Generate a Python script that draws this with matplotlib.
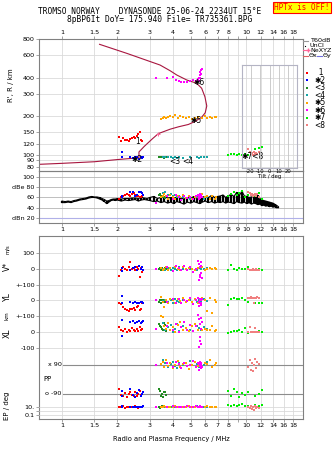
import matplotlib
matplotlib.use('Agg')
import matplotlib.pyplot as plt
from matplotlib.ticker import FixedLocator, FixedFormatter, NullLocator

W, H = 335, 451

FREQ_TICKS = [1, 1.5, 2, 3, 4, 5, 6, 7, 8, 9, 10, 12, 14, 16, 18]
FREQ_LABELS = ['1', '1.5', '2', '3', '4', '5', '6', '7', '8', '9', '10', '12', '14', '16', '18']
FREQ_LABELS_NO9 = ['1', '1.5', '2', '3', '4', '5', '6', '7', '8', '', '10', '12', '14', '16', '18']
RANGE_TICKS = [80, 90, 100, 120, 150, 200, 300, 400, 600, 800]
DB_TICKS = [20, 40, 60, 80, 100]
DB_LABELS = ['dBn 20', '40', '60', 'dBe 80', '100']
TILT_TICKS = [-20, -10, 0, 10, 20]

# model profile (virtual range vs frequency)
PROF_F = [0.75, 1.0, 1.5, 2.0, 2.4, 2.62, 2.62, 2.8, 3.1, 3.34, 3.87, 4.3, 4.86, 5.3, 5.74, 6.0,
          6.12, 5.98, 5.74, 5.39, 4.76, 4.2, 3.87, 3.41, 2.25, 1.6]
PROF_R = [84, 85.5, 88, 91.5, 93.5, 94.5, 105, 116, 133, 146, 158, 165, 172, 182, 196, 212,
          240, 283, 330, 361, 383, 419, 452, 501, 618, 727]

# noise floor trace
NOISE_F = [1.00, 1.04, 1.08, 1.12, 1.16, 1.20, 1.25, 1.30, 1.35, 1.40, 1.45, 1.50, 1.55, 1.60,
           1.65, 1.70, 1.75, 1.80, 1.85, 1.90, 1.95, 2.00, 2.10, 2.20, 2.30, 2.40, 2.50, 2.60,
           2.70, 2.80, 2.90, 3.00, 3.15, 3.30, 3.45, 3.60, 3.75, 3.90, 4.05, 4.20, 4.40, 4.60,
           4.80, 5.00, 5.20, 5.40, 5.60, 5.80, 6.00, 6.25, 6.50, 6.75, 7.00, 7.25, 7.50, 7.75,
           8.00, 8.30, 8.60, 8.90, 9.20, 9.50, 9.80, 10.1, 10.4, 10.7, 11.0, 11.3, 11.6, 11.9,
           12.2, 12.5, 12.8, 13.1, 13.4, 13.7, 14.0, 14.3, 14.6, 15.0]
NOISE_LO = [50, 50, 51, 50, 52, 53, 55, 56, 57, 59, 60, 60, 59, 57,
            55, 52, 48, 51, 54, 55, 54, 55, 53, 55, 54, 55, 56, 53,
            55, 56, 55, 54, 52, 53, 50, 52, 49, 51, 48, 52, 50, 47,
            51, 49, 52, 50, 48, 51, 53, 50, 52, 49, 51, 50, 52, 49,
            51, 50, 48, 52, 50, 49, 51, 48, 50, 47, 49, 48, 46, 47,
            44, 45, 43, 44, 42, 43, 41, 42, 40, 40]
NOISE_HI = [53, 52, 53, 52, 54, 55, 57, 58, 59, 61, 62, 61, 61, 60,
            58, 56, 53, 54, 56, 57, 57, 58, 57, 58, 58, 59, 59, 58,
            60, 59, 58, 60, 62, 58, 60, 62, 59, 60, 58, 61, 59, 57,
            60, 58, 62, 58, 60, 61, 62, 60, 64, 60, 62, 63, 65, 60,
            63, 66, 62, 70, 64, 72, 63, 62, 60, 61, 62, 60, 64, 58,
            55, 54, 53, 52, 51, 50, 49, 47, 45, 42]

# echo traces: frequency, virtual range, amplitude, V*, YL, XL, PP, EP
F1 = [2.05, 2.10, 2.15, 2.20, 2.25, 2.30, 2.35, 2.40, 2.45, 2.50, 2.55, 2.60, 2.65, 2.70, 2.72]
R1 = [138, 128, 136, 131, 130, 127, 133, 135, 138, 136, 141, 146, 151, 129, 127]
DB1 = [58, 61, 62, 64, 66, 65, 63, 66, 68, 64, 62, 63, 60, 61, 62]
V1 = [-45, -10, 12, 0, -5, 8, 45, -2, 5, -8, 10, 0, -55, 3, -20]
YL1 = [-15, -25, -45, -55, -62, -66, -58, -55, -50, -60, -45, -35, -62, -55, -20]
XL1 = [30, 10, 5, 20, 2, 15, 8, 25, 12, 3, 18, 6, 34, 10, 20]
PP1 = [-60, -95, -100, -85, -110, -90, -75, -95, -100, -80, -105, -90, -70, -95, -88]
EP1 = [10, 8, 12, 6, 9, 11, 7, 10, 8, 12, 9, 6, 10, 8, 11]

F2 = [2.12, 2.12, 2.35, 2.42, 2.50, 2.56, 2.62, 2.68, 2.72, 2.75]
R2 = [105, 96, 95, 94, 96, 95, 93, 95, 94, 96]
DB2 = [60, 62, 71, 70, 63, 64, 70, 71, 69, 65]
V2 = [5, -15, -8, 7, 10, -5, 15, -3, 8, -10]
YL2 = [28, -15, -12, -18, -10, -20, -14, -8, -12, -18]
XL2 = [75, -25, 60, 70, 55, 65, 72, 58, 62, 68]
PP2 = [-70, -100, -60, -95, -110, -85, -65, -100, -90, -80]
EP2 = [9, 12, 8, 10, 7, 11, 9, 8, 10, 12]

F3 = [3.38, 3.42, 3.46, 3.50, 3.54, 3.58, 3.62, 3.66]
R3 = [95, 95, 96, 95, 95, 94, 95, 95]
DB3 = [64, 66, 62, 60, 63, 61, 59, 62]
V3 = [0, 5, -5, 2, 0, -3, 4, 0]
YL3 = [-10, 5, -15, 0, -8, 3, -12, -5]
XL3 = [50, 40, 30, 20, 10, 55, 45, 5]
PP3 = [-60, -70, -100, -90, -110, -80, -75, -95]
EP3 = [10, 6, 9, 12, 8, 10, 7, 11]

F4 = [3.55, 3.65, 3.75, 3.90, 4.00, 4.10, 4.20, 4.30, 4.55, 4.95, 5.40, 5.55, 5.70, 5.90, 6.10]
R4 = [95, 95, 96, 95, 94, 95, 94, 95, 94, 96, 95, 94, 95, 96, 95]
DB4 = [68, 70, 64, 66, 62, 65, 60, 63, 61, 58, 62, 64, 60, 58, 61]
V4 = [0, -8, 5, -10, 3, 0, -5, 8, -3, 0, -6, 4, 0, -4, 2]
YL4 = [-5, 5, -10, 0, -15, 8, -3, -8, 5, 0, -10, 3, -5, 8, -2]
XL4 = [55, 10, 30, 45, 0, 20, 50, 5, 35, 15, 40, 25, 10, 30, 20]
PP4 = [120, 100, 80, 95, 110, 85, 70, 105, 90, 115, 95, 80, 100, 90, 110]
EP4 = [9, 11, 10, 8, 12, 10, 9, 11, 10, 8, 12, 9, 10, 11, 9]

F5 = [3.45, 3.52, 3.60, 3.68, 3.78, 3.88, 4.00, 4.12, 4.25, 4.40, 4.55, 4.70, 4.90, 5.10, 5.30,
      5.50, 5.75, 5.95, 6.15, 6.35, 6.55, 6.75, 6.90]
R5 = [190, 194, 198, 193, 196, 200, 195, 203, 192, 199, 195, 193, 198, 191, 194,
      196, 192, 199, 194, 197, 193, 198, 195]
DB5 = [60, 63, 66, 62, 58, 64, 61, 57, 63, 60, 65, 59, 62, 58, 61, 64, 66, 60, 63, 58, 62, 57, 60]
V5 = [5, -8, 0, 10, -5, 3, -12, 8, 0, -6, 12, -3, 5, 0, -8, 4, 10, -5, 0, 6, -4, 2, 0]
YL5 = [20, -10, -40, 5, -15, 10, 0, -20, 8, -5, 15, -12, 3, -8, 10, -18, 12, 0, -65, 15, -80, 5, -10]
XL5 = [100, 95, 40, 20, 55, 10, 30, 0, 45, 60, 15, 25, 5, 35, 50, 13, 10, 20, 12, 15, 40, 5, 13]
PP5 = [95, 110, 75, 120, 85, 100, 70, 90, 115, 80, 95, 105, 65, 90, 110, 85, 75, 100, 95, 120, 80, 90, 105]
EP5 = [10, 8, 12, 9, 11, 7, 10, 13, 9, 8, 11, 10, 12, 9, 7, 10, 11, 8, 12, 9, 10, 8, 11]

F6 = [3.25, 3.70, 4.00, 4.15, 4.30, 4.45, 4.60, 4.75, 4.95, 5.15, 5.35, 5.50, 5.55, 5.58, 5.60,
      5.62, 5.65, 5.68, 5.70, 5.72, 5.75]
R6 = [400, 398, 406, 385, 374, 370, 367, 372, 374, 380, 374, 388, 378, 400, 415,
      395, 445, 425, 430, 460, 470]
DB6 = [50, 62, 58, 64, 60, 56, 62, 59, 61, 57, 63, 65, 60, 58, 66, 62, 59, 64, 61, 63, 60]
V6 = [0, 10, -15, 20, 5, -10, 15, -5, 8, -20, 0, 50, -70, 30, -40, 10, -55, 20, -25, 40, -60]
YL6 = [5, -10, 8, -20, 10, -15, 0, -5, 12, -25, 5, 13, -35, -10, 0, -20, 8, -30, 5, -15, 10]
XL6 = [20, 40, 10, 50, 0, 30, 60, 15, 45, 5, 35, 108, -93, 80, -60, 50, -30, 90, -75, 20, 65]
PP6 = [90, 100, 80, 110, 95, 70, 105, 85, 90, 115, 75, 100, 60, 95, 110, 85, 100, 70, 90, 105, 80]
EP6 = [10, 9, 12, 8, 10, 11, 9, 13, 8, 10, 12, 9, 11, 10, 8, 12, 9, 10, 11, 8, 10]

F7 = [8.0, 8.3, 8.6, 8.9, 9.2, 9.5, 9.9, 10.3, 11.2, 11.7, 12.2]
R7 = [99, 101, 102, 100, 101, 100, 101, 99, 111, 112, 114]
DB7 = [62, 66, 70, 64, 68, 72, 60, 65, 63, 68, 58]
V7 = [-5, 25, 0, -8, 5, -3, 0, 8, -5, 0, -8]
YL7 = [-32, 10, 12, 8, 10, 12, 5, -10, -15, -20, -18]
XL7 = [-5, 0, 8, 5, 10, 0, 25, -5, 28, 5, 0]
PP7 = [-70, -100, -60, -80, -110, -85, -95, -75, -100, -90, -65]
EP7 = [20, 12, 30, 15, 25, 40, 18, 12, 20, 15, 25]

F8 = [10.3, 10.45, 10.6, 10.75, 10.9, 11.05, 11.2, 11.35, 11.5, 11.7]
R8 = [110, 104, 101, 103, 100, 104, 102, 103, 101, 104]
DB8 = [70, 68, 65, 66, 62, 64, 66, 63, 67, 61]
V8 = [-3, -5, -8, -5, -3, -6, -5, -4, -6, -5]
YL8 = [17, 17, 18, 17, 16, -20, 17, 17, 18, 17]
XL8 = [0, 30, 0, 2, -2, 0, 28, 0, 2, 0]
PP8 = [80, 120, 60, 100, 50, 90, 130, 70, 110, 95]
EP8 = [10, 4, 15, 3, 8, 2, 12, 5, 9, 6]

TRACES = [
    ('1', '#ff0000', F1, R1, DB1, V1, YL1, XL1, PP1, EP1),
    ('\u27312', '#0000ff', F2, R2, DB2, V2, YL2, XL2, PP2, EP2),
    ('<3', '#228b22', F3, R3, DB3, V3, YL3, XL3, PP3, EP3),
    ('<4', '#17a5a5', F4, R4, DB4, V4, YL4, XL4, PP4, EP4),
    ('\u27315', '#ffa500', F5, R5, DB5, V5, YL5, XL5, PP5, EP5),
    ('\u27316', '#ff00ff', F6, R6, DB6, V6, YL6, XL6, PP6, EP6),
    ('\u27317', '#00ee00', F7, R7, DB7, V7, YL7, XL7, PP7, EP7),
    ('<8', '#f08080', F8, R8, DB8, V8, YL8, XL8, PP8, EP8),
]

# where each trace number is written on the ionogram
TRACE_TAG_F = [2.59, 2.56, 4.11, 4.84, 5.35, 5.56, 10.8]
TRACE_TAG_R = [126, 92, 89, 89, 184, 365, 96]
TRACE_TAG_TXT = ['1', '\u27312', '<3', '<4', '\u27315', '\u27316', '\u27317<8']

GRID = '#dadada'
FRAME = '#808080'
FS = 4.6

V_OFF, YL_OFF, XL_OFF = 400, 200, 0


def pos(x0, y0, x1, y1):
    return [x0 / W, 1 - y1 / H, (x1 - x0) / W, (y1 - y0) / H]


def freq_axis(ax, labels=None, top=False):
    ax.set_xscale('log')
    ax.set_xlim(0.75, 20.4)
    ax.xaxis.set_major_locator(FixedLocator(FREQ_TICKS))
    ax.xaxis.set_minor_locator(NullLocator())
    ax.xaxis.set_major_formatter(FixedFormatter(labels if labels else [''] * len(FREQ_TICKS)))
    if top:
        ax.xaxis.tick_top()
    ax.grid(True, axis='x', color=GRID, lw=0.6)
    for s in ax.spines.values():
        s.set_color(FRAME)
        s.set_linewidth(0.8)
    ax.tick_params(labelsize=FS, length=2, width=0.5, color=FRAME, pad=1)
    ax.set_axisbelow(True)


def dots(ax, x, y, c):
    ax.plot(x, y, 's', ms=1.8, mew=0, color=c, clip_on=False)


fig = plt.figure(figsize=(W / 100, H / 100), dpi=100)
plt.rcParams['font.family'] = ['DejaVu Sans']

# ---- virtual range panel
ax_r = fig.add_axes(pos(39, 39, 303, 171))
freq_axis(ax_r, FREQ_LABELS_NO9, top=True)
ax_r.set_yscale('log')
ax_r.set_ylim(74.5, 800)
ax_r.yaxis.set_major_locator(FixedLocator(RANGE_TICKS))
ax_r.yaxis.set_minor_locator(NullLocator())
ax_r.yaxis.set_major_formatter(FixedFormatter([str(t) for t in RANGE_TICKS]))
ax_r.grid(True, axis='y', color=GRID, lw=0.6)
ax_r.plot(PROF_F, PROF_R, color='#a8163f', lw=0.8)
ax_r.plot([3.34], [146], '+', color='#ff6699', ms=3, mew=0.7)
for tr in TRACES:
    dots(ax_r, tr[2], tr[3], tr[1])
for f, r, t in zip(TRACE_TAG_F, TRACE_TAG_R, TRACE_TAG_TXT):
    ax_r.text(f, r, t, fontsize=5.5, ha='center', va='center', color='black')
fig.text(11 / W, 1 - 85 / H, "R', R / km", rotation=90, fontsize=5, ha='center', va='center')

# ---- amplitude panel
ax_db = fig.add_axes(pos(39, 171, 303, 223))
ax_db.patch.set_alpha(0)
freq_axis(ax_db, FREQ_LABELS)
ax_db.set_ylim(10.2, 111.7)
ax_db.set_yticks(DB_TICKS)
ax_db.set_yticklabels(DB_LABELS)
ax_db.grid(True, axis='y', color='#b4b4b4', lw=0.6)
ax_db.axhline(20, color='#b0b0e8', lw=0.8)
ax_db.vlines(NOISE_F, NOISE_LO, NOISE_HI, color='black', lw=1.6)
ax_db.plot(NOISE_F, NOISE_LO, color='black', lw=0.8)
ax_db.plot(NOISE_F, NOISE_HI, color='black', lw=0.8)
for tr in TRACES:
    dots(ax_db, tr[2], tr[4], tr[1])

# tilt inset (empty), drawn over the amplitude panel edge
ax_t = fig.add_axes(pos(242, 65, 297, 168))
ax_t.set_zorder(5)
ax_t.patch.set_alpha(0)
ax_t.set_xlim(-29, 29)
ax_t.set_ylim(0, 1)
ax_t.set_yticks([])
ax_t.set_xticks(TILT_TICKS)
ax_t.set_xticklabels([str(t) for t in TILT_TICKS])
ax_t.grid(True, axis='x', color='#c4c4c4', lw=0.6)
ax_t.tick_params(labelsize=3.8, length=0, pad=1)
ax_t.set_xlabel('Tilt / deg', fontsize=3.8, labelpad=0)
for s in ax_t.spines.values():
    s.set_color('#b4b4c4')
    s.set_linewidth(0.8)

# ---- drift velocity / position panel, stacked on one axis
ax_low = fig.add_axes(pos(39, 236, 303, 419))
freq_axis(ax_low, FREQ_LABELS_NO9)
ax_low.set_ylim(-551, 607)
low_ticks = [V_OFF + 100, V_OFF, V_OFF - 100, YL_OFF, YL_OFF - 100, XL_OFF, XL_OFF - 100]
ax_low.set_yticks(low_ticks)
ax_low.set_yticklabels(['100', '0', '+-100', '0', '+-100', '0', '-100'])
ax_low.grid(True, axis='y', color=GRID, lw=0.6)
for tr in TRACES:
    f = tr[2]
    dots(ax_low, f, [v + V_OFF for v in tr[5]], tr[1])
    dots(ax_low, f, [v + YL_OFF for v in tr[6]], tr[1])
    dots(ax_low, f, [v + XL_OFF for v in tr[7]], tr[1])

# polarization
ax_pp = fig.add_axes(pos(39, 352, 303, 402), sharex=ax_low)
ax_pp.patch.set_alpha(0)
ax_pp.set_ylim(-139.7, 170.7)
ax_pp.axis('off')
ax_pp.axhline(90, xmin=(63 - 39) / 264, color='#8c8c8c', lw=0.8)
ax_pp.axhline(-90, xmin=(63 - 39) / 264, color='#8c8c8c', lw=0.8)
ax_pp.text(0.085, 90, 'x 90', transform=ax_pp.get_yaxis_transform(), fontsize=FS, ha='right', va='center')
ax_pp.text(0.085, -90, 'o -90', transform=ax_pp.get_yaxis_transform(), fontsize=FS, ha='right', va='center')
ax_pp.text(0.015, 0, 'PP', transform=ax_pp.get_yaxis_transform(), fontsize=FS + 0.4, ha='left', va='center')
for tr in TRACES:
    dots(ax_pp, tr[2], tr[8], tr[1])

# echo arrival angle
ax_ep = fig.add_axes(pos(39, 400, 303, 419), sharex=ax_low)
ax_ep.patch.set_alpha(0)
ax_ep.set_yscale('log')
ax_ep.set_ylim(0.0109, 411)
ax_ep.yaxis.set_major_locator(FixedLocator([0.1, 1, 10]))
ax_ep.yaxis.set_minor_locator(NullLocator())
ax_ep.yaxis.set_major_formatter(FixedFormatter(['0.1', '', '10.']))
ax_ep.grid(True, axis='y', color=GRID, lw=0.6)
ax_ep.tick_params(axis='x', bottom=False, labelbottom=False)
ax_ep.tick_params(axis='y', labelsize=FS, length=2, width=0.5, color=FRAME, pad=1)
for s in ax_ep.spines.values():
    s.set_visible(False)
for tr in TRACES:
    dots(ax_ep, tr[2], tr[9], tr[1])

fig.text(7 / W, 1 - 266 / H, 'V*', rotation=90, fontsize=5.5, ha='center', va='center')
fig.text(7 / W, 1 - 249 / H, 'm/s', rotation=90, fontsize=3.8, ha='center', va='center')
fig.text(7 / W, 1 - 297 / H, 'YL', rotation=90, fontsize=5.5, ha='center', va='center')
fig.text(7 / W, 1 - 316 / H, 'km', rotation=90, fontsize=4, ha='center', va='center')
fig.text(7 / W, 1 - 333 / H, 'XL', rotation=90, fontsize=5.5, ha='center', va='center')
fig.text(7 / W, 1 - 406 / H, 'EP / deg', rotation=90, fontsize=5, ha='center', va='center')
fig.text(171 / W, 1 - 439 / H, 'Radio and Plasma Frequency / MHz', fontsize=4.8, ha='center', va='center')

# ---- legend column
def lg(y):
    return 1 - y / H

fig.add_artist(plt.Line2D([303 / W, 308 / W], [lg(41)] * 2, color='#999999', lw=0.8))
fig.text(310 / W, lg(41), 'T60dB', fontsize=FS, va='center')
fig.add_artist(plt.Line2D([305 / W], [lg(45.7)], marker='s', ms=0.8, mew=0, color='black'))
fig.text(310 / W, lg(45.7), 'UnCl', fontsize=FS, va='center')
fig.add_artist(plt.Line2D([303 / W, 308 / W], [lg(50.3)] * 2, color='#ff6699', lw=0.8,
                          marker='+', ms=2.5, markevery=[1]))
fig.text(310 / W, lg(50.3), 'NeXYZ', fontsize=FS, va='center')
fig.add_artist(plt.Line2D([303 / W, 308 / W], [lg(55.7)] * 2, color='#e06060', lw=0.8))
fig.text(309 / W, lg(55.7), '\u0398x', fontsize=FS, va='center')
fig.add_artist(plt.Line2D([317 / W, 322 / W], [lg(55.7)] * 2, color='#7070e0', lw=0.8))
fig.text(323 / W, lg(55.7), '\u0398y', fontsize=FS, va='center')
for i, tr in enumerate(TRACES):
    y = 72.7 + i * 7.5
    fig.add_artist(plt.Line2D([307 / W], [lg(y)], marker='s', ms=1.8, mew=0, color=tr[1]))
    fig.text(314 / W, lg(y), tr[0] if tr[0] != '1' else '  1', fontsize=5.5, va='center')

# ---- header
fig.text(150 / W, 1 - 12 / H, 'TROMSO NORWAY    DYNASONDE 25-06-24 2234UT 15\u00b0E',
         family='DejaVu Sans Mono', fontsize=5.7, ha='center', va='center')
fig.text(160 / W, 1 - 20 / H, '8pBP6It DoY= 175.940 File= TR735361.BPG',
         family='DejaVu Sans Mono', fontsize=5.7, ha='center', va='center')
fig.text(302 / W, 1 - 7.5 / H, 'HPTx is OFF!', family='DejaVu Sans Mono', fontsize=5.5,
         color='red', ha='center', va='center',
         bbox=dict(boxstyle='square,pad=0.15', facecolor='#ffff00', edgecolor='red', lw=0.8))

fig.savefig('out.png', dpi=100)
